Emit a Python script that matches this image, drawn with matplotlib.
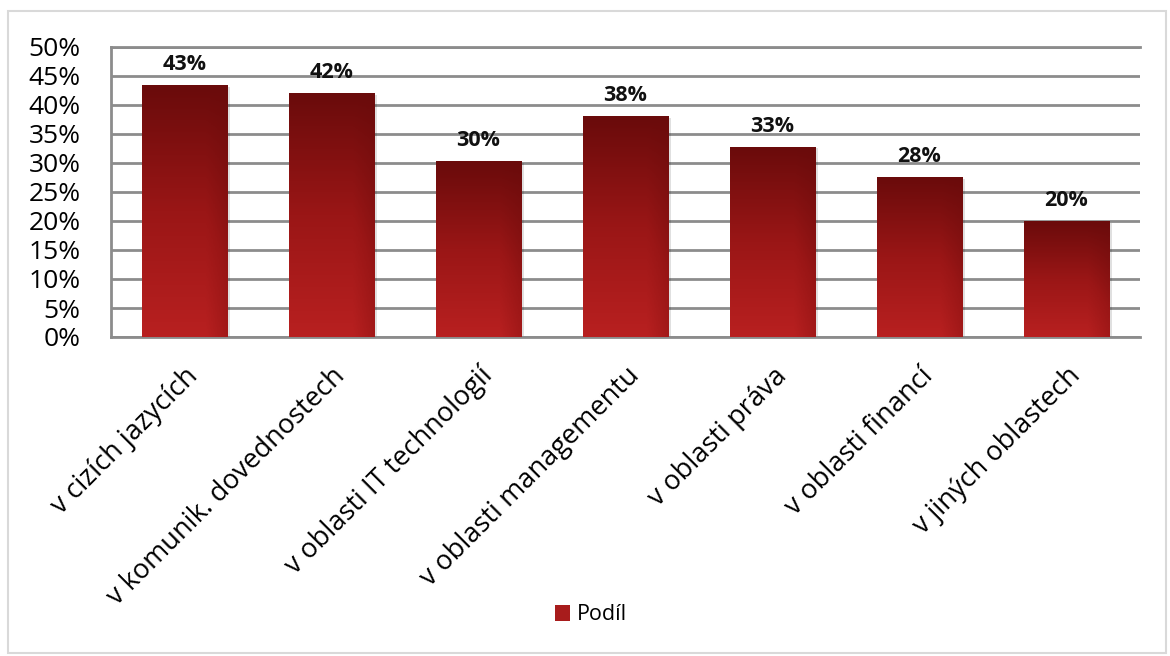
import matplotlib.pyplot as plt
import numpy as np
from matplotlib.colors import LinearSegmentedColormap
from matplotlib.patches import Rectangle

categories = ['v cizích jazycích', 'v komunik. dovednostech', 'v oblasti IT technologií',
              'v oblasti managementu', 'v oblasti práva', 'v oblasti financí', 'v jiných oblastech']
values = [43.4, 42.1, 30.3, 38.1, 32.8, 27.6, 20.0]
labels = ['43%', '42%', '30%', '38%', '33%', '28%', '20%']
yticks = [0, 5, 10, 15, 20, 25, 30, 35, 40, 45, 50]

plt.rcParams['font.family'] = ['Open Sans', 'DejaVu Sans']

fig = plt.figure(figsize=(11.7, 6.56), dpi=100)
# vnější rámeček grafu
fig.patches.append(Rectangle((0.007, 0.005), 0.99, 0.978, transform=fig.transFigure,
                             fill=False, edgecolor='#d9d9d9', linewidth=1.5))
ax = fig.add_axes([111 / 1170, 1 - 337 / 656, 1029 / 1170, 290 / 656])

x = np.arange(len(categories))
width = 0.58
cmap = LinearSegmentedColormap.from_list('red', ['#b82020', '#9a1616', '#6a0b0b'])

# gradient: tmavší nahoře, světlejší dole, vpravo dole lehce ztmavený
gy = np.linspace(0, 1, 100)[:, None]
gx = np.linspace(0, 1, 40)[None, :]
grad = gy + 0.35 * np.clip(gx - 0.75, 0, None) * (1 - gy) * 4

bars = ax.bar(x, values, width, color='none', zorder=3)
for b in bars:
    x0, w, h = b.get_x(), b.get_width(), b.get_height()
    # stín
    ax.add_patch(Rectangle((x0 + 0.02, -0.3), w, h, facecolor='#000000', alpha=0.12,
                           zorder=2, linewidth=0))
    im = ax.imshow(grad, cmap=cmap, extent=[x0, x0 + w, 0, h], origin='lower',
                   aspect='auto', zorder=3, vmin=0, vmax=1)
    im.set_clip_path(b)

for xi, v, lab in zip(x, values, labels):
    ax.text(xi, v + 1.7, lab, ha='center', va='bottom', fontsize=15.5, fontweight='bold',
            color='#111111', zorder=4)

ax.set_xlim(-0.5, len(categories) - 0.5)
ax.set_ylim(0, 50)
ax.set_yticks(yticks)
ax.set_yticklabels([f'{t}%' for t in yticks], fontsize=19)
ax.yaxis.grid(True, color='#8c8c8c', linewidth=2, zorder=1)
ax.set_axisbelow(True)
ax.set_xticks(x)
ax.set_xticklabels(categories, rotation=45, ha='right', va='top', rotation_mode='anchor',
                   fontsize=19.5)
ax.tick_params(axis='y', length=0, pad=22)
ax.tick_params(axis='x', length=0, pad=18)
for s in ['left', 'top', 'bottom']:
    ax.spines[s].set_color('#8c8c8c')
    ax.spines[s].set_linewidth(2)
ax.spines['right'].set_visible(False)

# legenda
handle = Rectangle((0, 0), 1, 1, facecolor='#a81c1c')
fig.legend([handle], ['Podíl'], loc='center', bbox_to_anchor=(0.505, 1 - 615 / 656),
           frameon=False, fontsize=15.5, handlelength=0.7, handleheight=0.7, handletextpad=0.3)

fig.savefig('out.png', dpi=100)
